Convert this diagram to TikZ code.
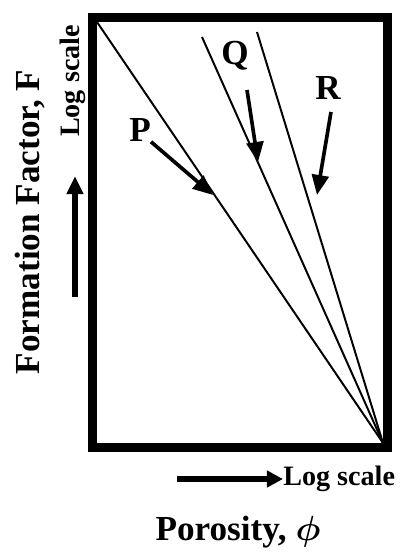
\documentclass[tikz,border=0pt]{standalone}
\usepackage{fontspec}
\setmainfont{Liberation Serif}
\usepackage{bm}
\usetikzlibrary{arrows.meta}

\begin{document}
\begin{tikzpicture}[x=0.025cm,y=-0.025cm,
	lbl/.style={font=\bfseries\fontsize{25}{25}\selectfont,inner sep=0},
	scl/.style={font=\bfseries\fontsize{20}{20}\selectfont,inner sep=0},
	ray/.style={line width=1.4pt},
	pointer/.style={line width=2.6pt,-{Triangle[length=5mm,width=4.2mm]}}]
	\useasboundingbox (0,0) rectangle (401,553);
	% frame of the plot
	\draw[line width=6.4pt] (92,17) rectangle (387,447);
	\coordinate (o) at (383,443);
	\coordinate (p0) at (97,22);
	\coordinate (q0) at (202,37);
	\coordinate (r0) at (257,32);
	\draw[ray] (p0) -- (o);
	\draw[ray] (q0) -- (o);
	\draw[ray] (r0) -- (o);
	% labels of the lines
	\node[lbl] (P) at (140,130) {P};
	\node[lbl] (Q) at (235,56) {Q};
	\node[lbl] (R) at (328,88) {R};
	\coordinate (qs) at (247,90);
	\coordinate (rs) at (331,112);
	\coordinate (pt) at (213,195);
	\coordinate (qt) at (258,162);
	\coordinate (rt) at (317,195);
	\draw[pointer] (P.south east) -- (pt);
	\draw[pointer] (qs) -- (qt);
	\draw[pointer] (rs) -- (rt);
	% axes
	\node[lbl,rotate=90] (F) at (30,222) {Formation Factor, F};
	\node[scl,rotate=90] (Fs) at (73,81) {Log scale};
	\coordinate (u0) at (75,297);
	\coordinate (u1) at (75,176);
	\draw[line width=4.2pt,-{Triangle[length=4.5mm,width=4mm]}] (u0) -- (u1);
	\coordinate (h0) at (177,479);
	\node[scl,anchor=west] (Ps) at (283,479) {Log scale};
	\draw[line width=3.6pt,-{Triangle[length=4mm,width=4mm]}] (h0) -- (Ps.west);
	\node[lbl] (phi) at (238,532) {Porosity, $\bm{\phi}$};
\end{tikzpicture}
\end{document}
